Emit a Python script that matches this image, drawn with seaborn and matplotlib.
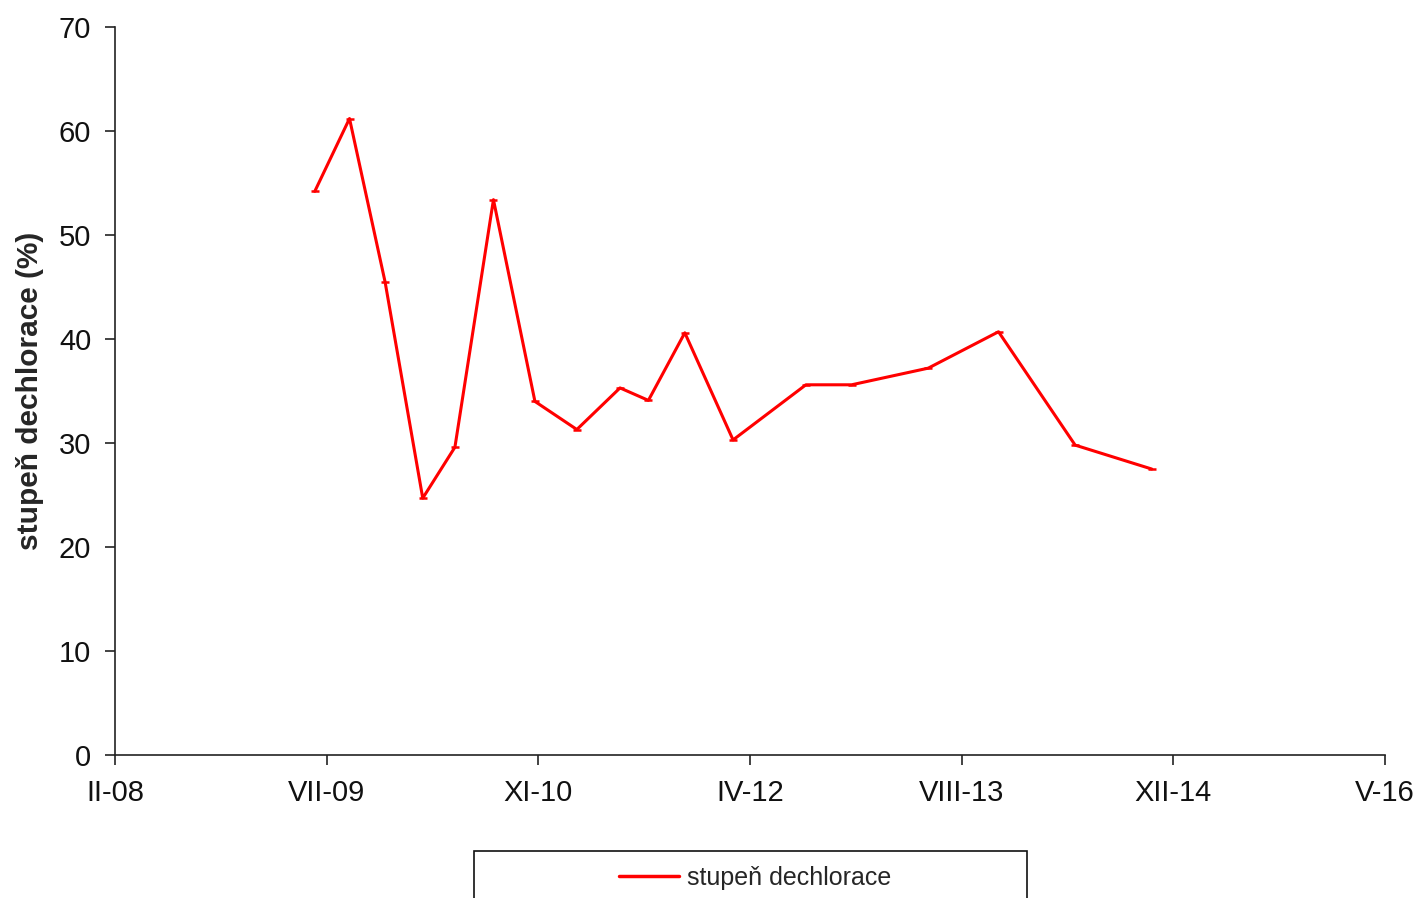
import pandas as pd
import matplotlib
matplotlib.use('Agg')
import matplotlib.pyplot as plt
import matplotlib.dates as mdates
from matplotlib.patches import Rectangle
import seaborn as sns

# sampling dates and dechlorination degree (%)
dates = ['2009-06-08', '2009-08-29', '2009-11-21', '2010-02-18', '2010-05-05',
         '2010-08-04', '2010-11-10', '2011-02-17', '2011-05-30', '2011-08-05',
         '2011-10-30', '2012-02-21', '2012-08-11', '2012-11-27', '2013-05-27',
         '2013-11-09', '2014-05-09', '2014-11-06']
values = [54.2, 61.2, 45.5, 24.7, 29.6, 53.4, 34.0, 31.3, 35.3, 34.1,
          40.6, 30.3, 35.6, 35.6, 37.2, 40.7, 29.8, 27.5]
series_name = 'stupeň dechlorace'
ylabel = 'stupeň dechlorace (%)'

roman = ['I', 'II', 'III', 'IV', 'V', 'VI', 'VII', 'VIII', 'IX', 'X', 'XI', 'XII']

df = pd.DataFrame({'datum': pd.to_datetime(dates), 'hodnota': values})

sns.set_style('white')
plt.rcParams['font.family'] = ['Liberation Sans', 'DejaVu Sans']

fig = plt.figure(figsize=(14.21, 8.98), dpi=100)
ax = fig.add_axes([0.0809, 0.1592, 0.8938, 0.8107])

sns.lineplot(data=df, x='datum', y='hodnota', ax=ax, color='#ff0000',
             linewidth=2.2, marker='_', markersize=6, markeredgewidth=1.8,
             markeredgecolor='#ff0000', label=series_name, legend=False)


def month_label(v, pos):
    d = mdates.num2date(v)
    return '%s-%02d' % (roman[d.month - 1], d.year % 100)


# Excel-like date axis: 500 day major unit
ticks = pd.date_range('2008-02-22', periods=7, freq='500D')
ax.set_xlim(ticks[0], ticks[-1])
ax.set_xticks(ticks)
ax.xaxis.set_major_formatter(plt.FuncFormatter(month_label))
ax.set_ylim(0, 70)
ax.set_yticks(range(0, 71, 10))

for s in ['top', 'right']:
    ax.spines[s].set_visible(False)
for s in ['left', 'bottom']:
    ax.spines[s].set_color('#222222')
    ax.spines[s].set_linewidth(1.2)

ax.tick_params(axis='both', direction='out', length=7, width=1.2, color='#222222',
               labelsize=21, labelcolor='#111111', pad=10, bottom=True, left=True)
ax.set_xlabel('')
ax.set_ylabel(ylabel, fontsize=21.5, fontweight='bold', labelpad=11)

# legend box runs off the bottom edge, like in the original
fig.patches.append(Rectangle((474 / 1421, -0.02), 553 / 1421, 0.02 + 47 / 898,
                             transform=fig.transFigure, fill=False,
                             edgecolor='#111111', linewidth=1.2))
handles, labels = ax.get_legend_handles_labels()
leg = fig.legend(handles, labels, loc='upper center',
                 bbox_to_anchor=(755 / 1421, 1 - 851 / 898),
                 frameon=False, fontsize=18, borderpad=0.6,
                 handlelength=2.4, handletextpad=0.3, borderaxespad=0)
for line in leg.get_lines():
    line.set_marker('')
    line.set_linewidth(2.5)

fig.savefig('out.png', dpi=100)
